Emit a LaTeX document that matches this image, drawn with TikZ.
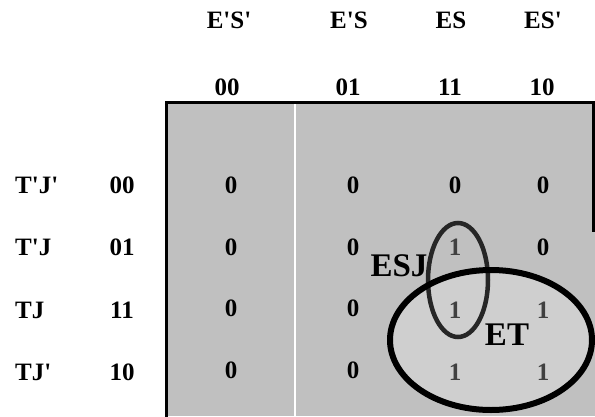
\documentclass[tikz,border=0pt]{standalone}
\usepackage{fontspec}
\setmainfont{Liberation Serif}[Ligatures=TeXOff]
\definecolor{kgray}{HTML}{C0C0C0}
\definecolor{kin}{HTML}{CFCFCF}
\definecolor{onegray}{HTML}{404040}
\begin{document}
\begin{tikzpicture}[x=1pt,y=-1pt,
  lbl/.style={font=\fontsize{25}{27}\selectfont\bfseries, inner sep=0pt},
  rowlbl/.style={lbl, anchor=west},
  one/.style={lbl, text=onegray},
  big/.style={inner sep=0pt, font=\fontsize{33}{35}\selectfont\bfseries},
  border/.style={line width=3pt, line cap=rect}]
\useasboundingbox (0,0) rectangle (595,416);
% map background
\fill[kgray] (168,104) rectangle (592,416);
\fill[kgray] (592,231) rectangle (595,416);
\draw[white, line width=1.5pt] (295,104) -- (295,416);
\draw[border] (166.5,102.5) -- (593.5,102.5);
\draw[border] (166.5,102.5) -- (166.5,416);
\draw[border] (593.5,102.5) -- (593.5,230);
% ET region fill
\fill[kin] (491,340) ellipse [x radius=101pt, y radius=70pt];
% column headers
\node[lbl] (h1) at (229,20) {E'S'};
\node[lbl] (h2) at (349,20) {E'S};
\node[lbl] (h3) at (451,20) {ES};
\node[lbl] (h4) at (543,20) {ES'};
\node[lbl] (c1) at (227,87) {00};
\node[lbl] (c2) at (348,87) {01};
\node[lbl] (c3) at (450,87) {11};
\node[lbl] (c4) at (542,87) {10};
% row headers
\node[rowlbl] (r1) at (15,185) {T'J'};
\node[rowlbl] (r2) at (15,247) {T'J};
\node[rowlbl] (r3) at (15,310) {TJ};
\node[rowlbl] (r4) at (15,372) {TJ'};
\node[lbl] (d1) at (122,185) {00};
\node[lbl] (d2) at (122,247) {01};
\node[lbl] (d3) at (122,310) {11};
\node[lbl] (d4) at (122,372) {10};
% cells
\node[lbl] (m11) at (231,185) {0};
\node[lbl] (m12) at (353,185) {0};
\node[lbl] (m13) at (455,185) {0};
\node[lbl] (m14) at (543,185) {0};
\node[lbl] (m21) at (231,247) {0};
\node[lbl] (m22) at (353,247) {0};
\node[one] (m23) at (455,247) {1};
\node[lbl] (m24) at (543,247) {0};
\node[lbl] (m31) at (231,308) {0};
\node[lbl] (m32) at (353,308) {0};
\node[one] (m33) at (455,310) {1};
\node[one] (m34) at (543,310) {1};
\node[lbl] (m41) at (231,370) {0};
\node[lbl] (m42) at (353,370) {0};
\node[one] (m43) at (455,372) {1};
\node[one] (m44) at (543,372) {1};
% group labels
\node[big] (esj) at (399,266) {ESJ};
\node[big] (et) at (507,335) {ET};
% groupings
\draw[line width=4.5pt, color=black!85] (458,280) ellipse [x radius=30pt, y radius=57pt];
\draw[line width=6pt] (491,340) ellipse [x radius=101pt, y radius=70pt];
\end{tikzpicture}
\end{document}
